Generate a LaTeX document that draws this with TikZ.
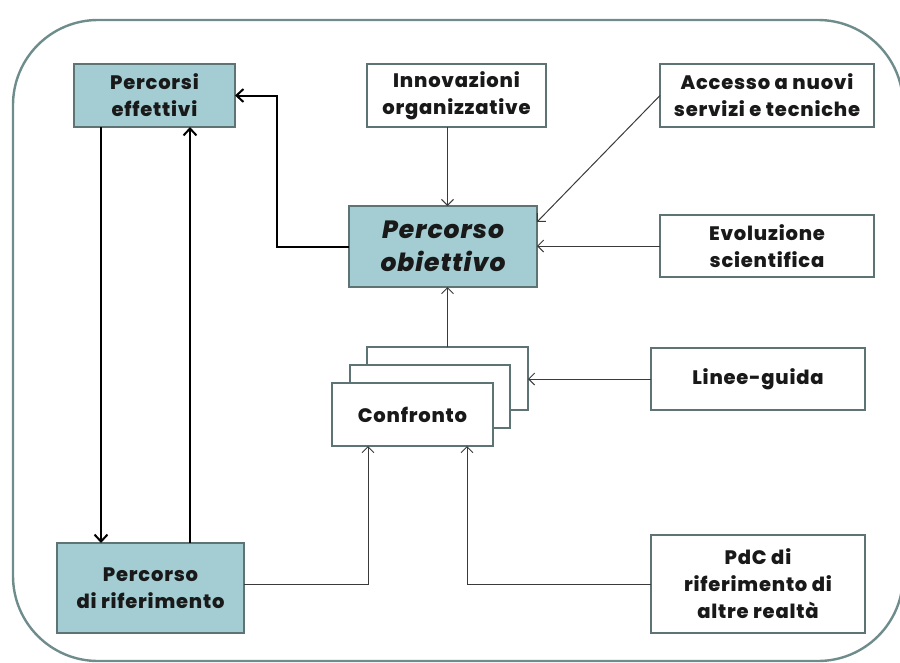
\documentclass[tikz,border=0pt]{standalone}
\usepackage{fontspec}
\setmainfont{Poppins}[BoldFont={Poppins ExtraBold},BoldItalicFont={Poppins ExtraBold Italic},LetterSpace=4]
\usetikzlibrary{arrows.meta,calc}
\definecolor{tealfill}{HTML}{A3CDD2}
\definecolor{boxedge}{HTML}{5E7474}
\definecolor{outeredge}{HTML}{6E8C8C}
\definecolor{thinline}{HTML}{3A3A3A}
\begin{document}
\begin{tikzpicture}[x=1pt,y=-1pt,
  box/.style={draw=boxedge,line width=2.4pt,fill=white,rectangle,inner sep=0pt,outer sep=0pt,align=center,
    font=\fontsize{19.5}{27}\selectfont\bfseries,text=black!90},
  tealbox/.style={box,fill=tealfill},
  blk/.style={draw=black,line width=2pt,-{Straight Barb[length=7pt,width=13pt,line width=2pt]}},
  thn/.style={draw=thinline,line width=1pt,-{Straight Barb[length=6pt,width=12pt,line width=1pt]}}]
\useasboundingbox (0,0) rectangle (900,662);
\draw[outeredge,line width=2.4pt,rounded corners=85pt] (13,20) rectangle (903,661);
% boxes
\node[tealbox,minimum width=161pt,minimum height=63pt] (pe) at (154.5,95.5) {Percorsi\\effettivi};
\node[box,minimum width=179pt,minimum height=63pt] (inn) at (456.5,95.5) {Innovazioni\\organizzative};
\node[box,minimum width=214pt,minimum height=63pt] (acc) at (767,95.5) {Accesso a nuovi\\servizi e tecniche};
\node[tealbox,minimum width=188pt,minimum height=81pt,font=\fontsize{25}{33}\selectfont\bfseries\itshape] (obj) at (443,246.5) {Percorso\\obiettivo};
\node[box,minimum width=214pt,minimum height=62pt] (evo) at (767,246) {Evoluzione\\scientifica};
\node[box,minimum width=214pt,minimum height=62pt] (lg) at (758,379) {Linee-guida};
\node[box,minimum width=214pt,minimum height=98pt] (pdc) at (758,584) {PdC di\\riferimento di\\altre realtà};
\node[tealbox,minimum width=187pt,minimum height=90pt] (rif) at (150.5,588) {Percorso\\di riferimento};
\node[box,minimum width=161pt,minimum height=63pt] (cb) at (447.5,378.5) {};
\node[box,minimum width=160pt,minimum height=63pt] (cm) at (430,396.5) {};
\node[box,minimum width=161pt,minimum height=63pt] (cf) at (412.5,414.5) {Confronto};
% connectors
\draw[blk] (obj.west) -| ([xshift=42pt]pe.east) -- (pe.east);
\draw[blk] ([xshift=-53.5pt]pe.south) -- ([xshift=-53.5pt]pe.south |- rif.north);
\draw[blk] ([xshift=35.5pt]pe.south |- rif.north) -- ([xshift=35.5pt]pe.south);
\draw[thn] (cb.north |- inn.south) -- (cb.north |- obj.north);
\draw[thn] (acc.west) -- ([yshift=24.5pt]obj.east);
\draw[thn] (evo.west) -- (evo.west -| obj.east);
\draw[thn] (cb.north) -- (cb.north |- obj.south);
\draw[thn] (lg.west) -- (lg.west -| cb.east);
\draw[thn] ([yshift=4pt]rif.east) -| ([xshift=-44.5pt]cf.south);
\draw[thn] (pdc.west) -| ([xshift=54.5pt]cf.south);
\end{tikzpicture}
\end{document}
